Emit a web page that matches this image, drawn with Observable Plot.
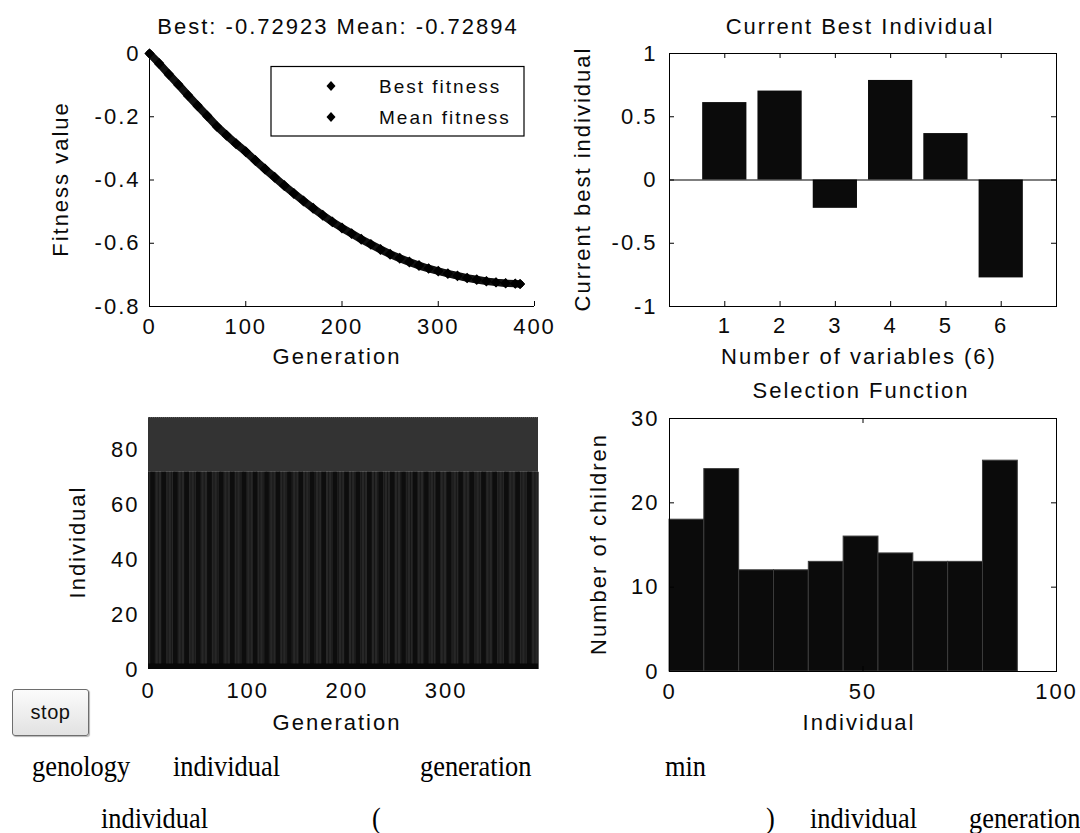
<!DOCTYPE html>
<html><head><meta charset="utf-8">
<script src="https://cdn.jsdelivr.net/npm/d3@7"></script>
<script src="https://cdn.jsdelivr.net/npm/@observablehq/plot@0.6"></script>
<style>
body{margin:0;background:#fff;}
#wrap{position:relative;width:1080px;height:833px;overflow:hidden;background:#fff;font-family:"Liberation Sans",Arial,sans-serif;}
#wrap svg{position:absolute;overflow:visible;}
.btn{position:absolute;left:12px;top:689px;width:77px;height:47px;box-sizing:border-box;border:1px solid #6e6e6e;border-radius:3px;background:linear-gradient(#fbfbfb,#e2e2e2);box-shadow:1px 1px 1px #b5b5b5;font:20px "Liberation Sans",Arial,sans-serif;letter-spacing:0.5px;display:flex;align-items:center;justify-content:center;color:#111;}
</style></head>
<body><div id="wrap"><div class="btn">stop</div></div>
<script>
// ---- data ----
const generations = [0,10,20,30,40,50,60,70,80,90,100,110,120,130,140,150,160,170,180,190,200,210,220,230,240,250,260,270,280,290,300,310,320,330,340,350,360,370,380,385];
const bestFitness = [0,-0.033,-0.067,-0.100,-0.134,-0.167,-0.199,-0.232,-0.260,-0.287,-0.312,-0.340,-0.367,-0.393,-0.419,-0.444,-0.468,-0.491,-0.513,-0.534,-0.553,-0.571,-0.589,-0.605,-0.621,-0.636,-0.649,-0.661,-0.672,-0.681,-0.689,-0.697,-0.704,-0.711,-0.716,-0.721,-0.724,-0.727,-0.728,-0.729];
const meanFitness = [0,-0.030,-0.064,-0.097,-0.131,-0.164,-0.196,-0.229,-0.257,-0.284,-0.309,-0.337,-0.364,-0.390,-0.416,-0.441,-0.465,-0.488,-0.510,-0.531,-0.550,-0.568,-0.586,-0.602,-0.618,-0.633,-0.646,-0.658,-0.669,-0.679,-0.687,-0.695,-0.702,-0.709,-0.714,-0.719,-0.723,-0.726,-0.727,-0.729];
const bestValueText = "-0.72923", meanValueText = "-0.72894";

const variables = [1,2,3,4,5,6];
const bestIndividual = [0.612,0.703,-0.224,0.787,0.367,-0.774];

const binEdges = [0,9,18,27,36,45,54,63,72,81,90];
const childrenCounts = [18,24,12,12,13,16,14,13,13,25];

const lastGeneration = 393;
const populationTop = 92;
const eliteBoundary = 72;

const tlXTicks = [0,100,200,300,400];
const tlYTicks = [0,-0.2,-0.4,-0.6,-0.8];
const trXTicks = [1,2,3,4,5,6];
const trYTicks = [1,0.5,0,-0.5,-1];
const blXTicks = [0,100,200,300];
const blYTicks = [0,20,40,60,80];
const brXTicks = [0,50,100];
const brYTicks = [0,10,20,30];

// ---- rendering ----
const W = document.getElementById("wrap");
const FONT = '"Liberation Sans", Arial, sans-serif';
const baseStyle = {fontFamily: FONT, fontSize: "22px", letterSpacing: "2px", color: "#0a0a0a", background: "transparent", overflow: "visible"};
function place(svg, left, top){ svg.style.left = left + "px"; svg.style.top = top + "px"; W.appendChild(svg); }
const fmt = d => String(d);

// Top-left: fitness
const fitRows = generations.map((g,i) => ({g, best: bestFitness[i], mean: meanFitness[i]}));
place(Plot.plot({
  width: 545, height: 370, marginLeft: 149, marginRight: 11, marginTop: 53, marginBottom: 64,
  x: {domain: [0, 400]}, y: {domain: [-0.8, 0]}, style: baseStyle,
  marks: [
    Plot.axisX({ticks: tlXTicks, tickSize: 0, tickPadding: 12, tickFormat: fmt, label: null}),
    Plot.axisY({ticks: tlYTicks, tickSize: 0, tickPadding: 9, tickFormat: fmt, label: null}),
    Plot.ruleX([0], {stroke: "#000"}),
    Plot.ruleY([-0.8], {stroke: "#000"}),
    Plot.tickX(tlXTicks, {x: d => d, insetTop: 248, stroke: "#000"}),
    Plot.tickY(tlYTicks, {y: d => d, insetRight: 380, stroke: "#000"}),
    Plot.line(fitRows, {x: "g", y: "mean", stroke: "#111", strokeWidth: 7}),
    Plot.line(fitRows, {x: "g", y: "best", stroke: "#111", strokeWidth: 7}),
    Plot.dot(fitRows, {x: "g", y: "mean", symbol: "diamond2", r: 4.5, fill: "#000"}),
    Plot.dot(fitRows, {x: "g", y: "best", symbol: "diamond2", r: 4.5, fill: "#000"})
  ]
}), 0, 0);

// Top-right: current best individual
const barRows = variables.map((v,i) => ({v, val: bestIndividual[i]}));
place(Plot.plot({
  width: 520, height: 370, marginLeft: 109, marginRight: 24, marginTop: 53, marginBottom: 64,
  x: {domain: [0, 7]}, y: {domain: [-1, 1]}, style: baseStyle,
  marks: [
    Plot.axisX({ticks: trXTicks, tickSize: 0, tickPadding: 11, tickFormat: fmt, label: null}),
    Plot.axisY({ticks: trYTicks, tickSize: 0, tickPadding: 12, tickFormat: fmt, label: null}),
    Plot.rect(barRows, {x1: d => d.v - 0.4, x2: d => d.v + 0.4, y1: d => 0, y2: "val", fill: "#0b0b0b"}),
    Plot.ruleY([0], {stroke: "#000", strokeWidth: 1.2}),
    Plot.tickX(trXTicks, {x: d => d, insetTop: 248, stroke: "#000"}),
    Plot.tickX(trXTicks, {x: d => d, insetBottom: 248, stroke: "#000"}),
    Plot.tickY(trYTicks, {y: d => d, insetRight: 382, stroke: "#000"}),
    Plot.tickY(trYTicks, {y: d => d, insetLeft: 382, stroke: "#000"}),
    Plot.frame({stroke: "#000"})
  ]
}), 560, 0);

// Bottom-left: genealogy
const bands = [{y1: eliteBoundary, y2: populationTop}, {y1: 0, y2: eliteBoundary}];
place(Plot.plot({
  width: 545, height: 380, marginLeft: 148, marginRight: 7, marginTop: 47, marginBottom: 81,
  x: {domain: [0, lastGeneration]}, y: {domain: [0, populationTop]}, style: baseStyle,
  marks: [
    Plot.axisX({ticks: blXTicks, tickSize: 0, tickPadding: 13, tickFormat: fmt, label: null}),
    Plot.axisY({ticks: blYTicks, tickSize: 0, tickPadding: 9, tickFormat: fmt, label: null}),
    Plot.rect(bands, {x1: d => 0, x2: d => lastGeneration, y1: "y1", y2: "y2", fill: (d,i) => i === 0 ? "#333333" : "#272727"}),
    Plot.ruleX(d3.range(0, lastGeneration, 3.3), {y1: d => 0, y2: d => eliteBoundary, stroke: "#181818", strokeWidth: 1}),
    Plot.ruleX(d3.range(4, lastGeneration, 11.5), {y1: d => 0, y2: d => eliteBoundary, stroke: "#0d0d0d", strokeWidth: 4.5}),
    Plot.rect([{}], {x1: d => 0, x2: d => lastGeneration, y1: d => 0, y2: d => 2, fill: "#080808"}),
    Plot.ruleY([populationTop], {stroke: "#5a5a5a", strokeDasharray: "1,1"})
  ]
}), 0, 370);

// Bottom-right: selection histogram
const binRows = childrenCounts.map((c,i) => ({x1: binEdges[i], x2: binEdges[i+1], c}));
place(Plot.plot({
  width: 520, height: 380, marginLeft: 109, marginRight: 24, marginTop: 48, marginBottom: 79,
  x: {domain: [0, 100]}, y: {domain: [0, 30]}, style: baseStyle,
  marks: [
    Plot.axisX({ticks: brXTicks, tickSize: 0, tickPadding: 12, tickFormat: fmt, label: null}),
    Plot.axisY({ticks: brYTicks, tickSize: 0, tickPadding: 10, tickFormat: fmt, label: null}),
    Plot.rect(binRows, {x1: "x1", x2: "x2", y1: d => 0, y2: "c", fill: "#0b0b0b", stroke: "#3c3c3c", strokeWidth: 1}),
    Plot.tickX(brXTicks, {x: d => d, insetTop: 248, stroke: "#000"}),
    Plot.tickX(brXTicks, {x: d => d, insetBottom: 248, stroke: "#000"}),
    Plot.tickY(brYTicks, {y: d => d, insetRight: 382, stroke: "#000"}),
    Plot.tickY(brYTicks, {y: d => d, insetLeft: 382, stroke: "#000"}),
    Plot.frame({stroke: "#000"})
  ]
}), 560, 370);

// ---- text overlay ----
const ov = d3.create("svg").attr("width", 1080).attr("height", 833)
  .style("left", "0px").style("top", "0px").style("pointer-events", "none")
  .attr("font-family", FONT).attr("fill", "#0a0a0a");
function lab(text, x, y, rot, size, anchor){
  ov.append("text").attr("transform", `translate(${x},${y})` + (rot ? " rotate(-90)" : ""))
    .attr("text-anchor", anchor || "middle").attr("font-size", size || 22)
    .attr("letter-spacing", 2).text(text);
}
lab(`Best: ${bestValueText} Mean: ${meanValueText}`, 338, 34);
lab("Generation", 337, 364);
lab("Fitness value", 68, 179, true);
lab("Current Best Individual", 860, 34);
lab("Number of variables (6)", 859, 364);
lab("Current best individual", 590, 179, true);
lab("Selection Function", 861, 398);
lab("Number of children", 606, 544, true);
lab("Individual", 859, 730);
lab("Individual", 85, 542, true);
lab("Generation", 337, 730);

// legend
ov.append("rect").attr("x", 271).attr("y", 66.5).attr("width", 253).attr("height", 69.5)
  .attr("fill", "#fff").attr("stroke", "#000").attr("stroke-width", 1.2);
[[86, "Best fitness"], [117, "Mean fitness"]].forEach(([y, t]) => {
  ov.append("path").attr("d", `M331,${y-5}L335.5,${y}L331,${y+5}L326.5,${y}Z`).attr("fill", "#000");
  lab(t, 379, y + 7, false, 19, "start");
});

// bottom paragraph
const words = [
  ["genology", 32, 776], ["individual", 173, 776], ["generation", 420, 776], ["min", 665, 776],
  ["individual", 101, 828], ["(", 372, 828], [")", 766, 828], ["individual", 810, 828], ["generation", 969, 828]
];
words.forEach(([t, x, y]) => {
  ov.append("text").attr("transform", `translate(${x},${y}) scale(0.91,1)`)
    .attr("font-family", '"Liberation Serif", "Times New Roman", serif').attr("font-size", 29)
    .attr("fill", "#000").text(t);
});
W.appendChild(ov.node());
</script>
</body></html>
